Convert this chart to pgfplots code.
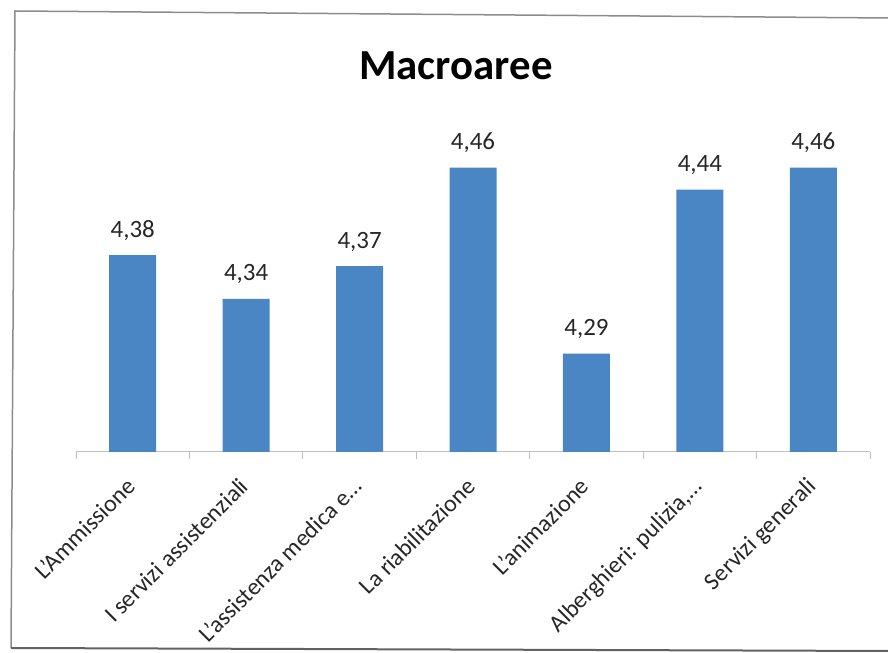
\documentclass[border=0pt]{standalone}
\usepackage{fontspec}
\setmainfont{Carlito}
\usepackage{pgfplots}
\pgfplotsset{compat=1.18}
\definecolor{barblue}{HTML}{4A86C4}
\definecolor{axisgray}{HTML}{BFBFBF}
\definecolor{framegray}{HTML}{8C8C8C}
\begin{document}
\begin{tikzpicture}[x=1bp,y=1bp]
  \useasboundingbox (0,0) rectangle (888,653);
  % scanned frame
  \draw[framegray, line width=1.5bp] (11,5) -- (15,642) -- (888,635);
  \draw[framegray!70!black, line width=2bp] (11,5) -- (888,2);
  \begin{axis}[
    at={(76bp,201bp)}, anchor=south west,
    scale only axis, width=794bp, height=328bp,
    xmin=-0.5, xmax=6.5, ymin=4.2, ymax=4.5,
    axis x line=bottom, axis y line=none,
    axis line style={axisgray, line width=1bp, -},
    ybar, bar width=47bp,
    xtick={0,...,6},
    xticklabels={L'Ammissione, I servizi assistenziali, L'assistenza medica e…,
      La riabilitazione, L'animazione, {Alberghieri: pulizia,…}, Servizi generali},
    major x tick style={draw=none},
    minor xtick={-0.5,0.5,...,6.5},
    minor x tick style={axisgray, line width=1bp},
    minor tick length=7bp, tick align=outside,
    x tick label style={xshift=-8bp, yshift=-17bp, rotate=45, anchor=north east,
      inner sep=2bp, font=\fontsize{24}{28}\selectfont, text=black!85},
    nodes near coords={\pgfmathprintnumber[fixed, fixed zerofill, precision=2,
      use comma, assume math mode=true]{\pgfplotspointmeta}},
    every node near coord/.append style={anchor=base, yshift=18bp, inner sep=0pt,
      font=\fontsize{25}{29}\selectfont, text=black!85},
  ]
    \addplot[fill=barblue, draw=none] coordinates {
      (0,4.38) (1,4.34) (2,4.37) (3,4.46) (4,4.29) (5,4.44) (6,4.46)};
  \end{axis}
  \node[anchor=base, font=\fontsize{43}{50}\selectfont\bfseries] at (456,573) {Macroaree};
\end{tikzpicture}
\end{document}
